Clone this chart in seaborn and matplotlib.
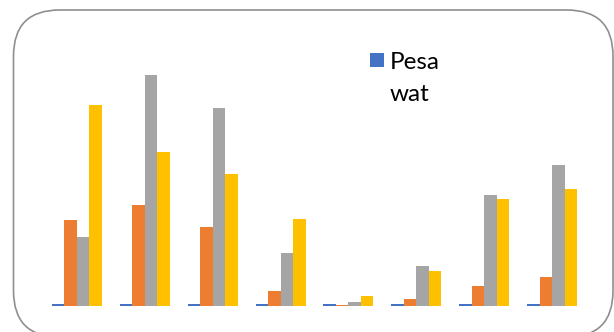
import matplotlib
matplotlib.use("Agg")
import matplotlib.pyplot as plt
from matplotlib.patches import FancyBboxPatch, Rectangle
import pandas as pd
import seaborn as sns

# Data
categories = ["1", "2", "3", "4", "5", "6", "7", "8"]
series_names = ["Pesa\nwat", "Series 2", "Series 3", "Series 4"]
pesa_wat = [2, 2, 2, 2, 2, 2, 2, 2]
series_2 = [86, 101, 79, 15, 1.5, 7, 20, 29]
series_3 = [69, 231, 198, 53, 4, 40, 111, 141]
series_4 = [201, 154, 132, 87, 10, 35, 107, 117]
palette = ["#4472C4", "#ED7D31", "#A5A5A5", "#FFC000"]

rows = []
for name, vals in zip(series_names, [pesa_wat, series_2, series_3, series_4]):
    for cat, v in zip(categories, vals):
        rows.append({"category": cat, "series": name, "value": v})
df = pd.DataFrame(rows)

sns.set_theme(style="white")
plt.rcParams["font.family"] = ["Lato", "DejaVu Sans"]

W, H = 614, 332
fig = plt.figure(figsize=(W / 100, H / 100), dpi=100)

# axes placement in pixels
ax_left, ax_right = 43, 586
ax_bottom, ax_top = 306, 56
ax = fig.add_axes([ax_left / W, 1 - ax_bottom / H,
                   (ax_right - ax_left) / W, (ax_bottom - ax_top) / H])

sns.barplot(data=df, x="category", y="value", hue="series",
            palette=palette, width=0.735, linewidth=0,
            saturation=1, legend=False, ax=ax)
ax.set_xlim(-0.5, 7.5)
ax.set_ylim(0, 250)
ax.set_axis_off()

# rounded outer frame
frame = FancyBboxPatch((13.5 / W, 1 - 337 / H), (613 - 13.5) / W, (337 - 10) / H,
                       boxstyle="round,pad=0,rounding_size=0.075",
                       transform=fig.transFigure, facecolor="none",
                       edgecolor="#8f8f8f", linewidth=1.2,
                       mutation_aspect=W / H)
fig.add_artist(frame)

# legend entry
fig.add_artist(Rectangle((370 / W, 1 - 67 / H), 14 / W, 14 / H,
                         transform=fig.transFigure, facecolor=palette[0],
                         edgecolor="none"))
fig.text(390 / W, 1 - 69 / H, "Pesa", fontsize=17.5, color="#000000",
         ha="left", va="baseline")
fig.text(390 / W, 1 - 101 / H, "wat", fontsize=17.5, color="#000000",
         ha="left", va="baseline")

fig.savefig("out.png", dpi=100)
